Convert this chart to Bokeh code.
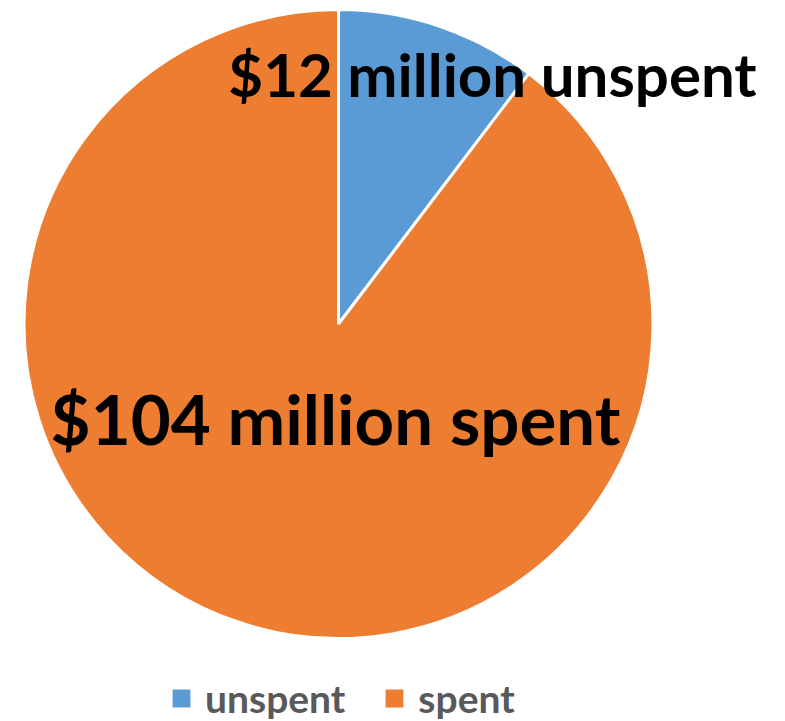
from bokeh.plotting import figure
from bokeh.models import ColumnDataSource, Range1d, Legend, LegendItem
from bokeh.embed import file_html
from bokeh.resources import INLINE
from bokeh.core.properties import value
import math

categories = ["unspent", "spent"]
amounts = [12, 104]
colors = ["#5B9BD5", "#ED7D31"]

total = sum(amounts)
starts, ends = [], []
cur = 90.0
for a in amounts:
    sweep = 360.0 * a / total
    ends.append(math.radians(cur))
    starts.append(math.radians(cur - sweep))
    cur -= sweep

src = ColumnDataSource(dict(cat=categories, amt=amounts, color=colors,
                            start=starts, end=ends))

W, H = 785, 721
p = figure(width=W, height=H, output_backend="svg", toolbar_location=None,
           x_range=Range1d(0, W), y_range=Range1d(0, H),
           min_border=0)
p.axis.visible = False
p.grid.visible = False
p.outline_line_color = None

cx, cy, r = 338, 721 - 323.5, 314.5
wr = p.wedge(x=cx, y=cy, radius=r, start_angle="start", end_angle="end",
             fill_color="color", line_color="white", line_width=3, source=src)

labels = [f"${a} million {c}" for a, c in zip(amounts, categories)]
lx = [492, 335]
ly = [721 - 73, 721 - 418]
lsize = ["60px", "69px"]
p.text(x=lx, y=ly, text=labels, text_align="center", text_baseline="alphabetic",
       text_font=value("Lato"), text_font_style="bold", text_color="black",
       text_font_size=lsize)

legend = Legend(items=[LegendItem(label=c, renderers=[wr], index=i)
                       for i, c in enumerate(categories)],
                orientation="horizontal", location=(168, 0),
                label_text_font="Lato", label_text_font_style="bold",
                label_text_font_size="39px", label_text_color="#595959",
                glyph_width=26, glyph_height=26, spacing=36, padding=0, margin=0,
                label_standoff=11,
                background_fill_alpha=0, border_line_color=None)
p.add_layout(legend)

open("out.html", "w").write(file_html(p, INLINE))
